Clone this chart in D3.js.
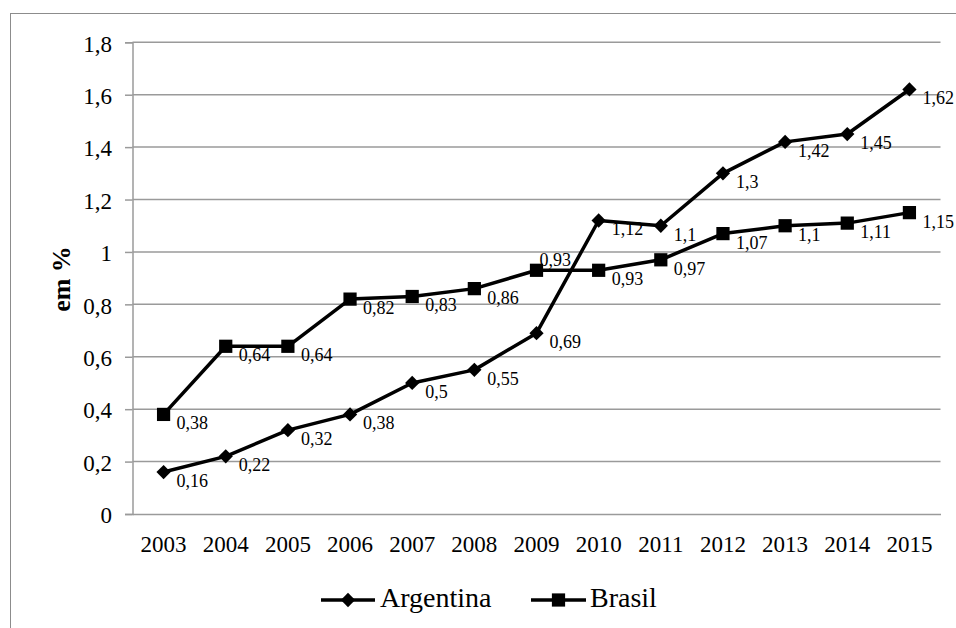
<!DOCTYPE html>
<html>
<head>
<meta charset="utf-8">
<script src="https://cdn.jsdelivr.net/npm/d3@7"></script>
<style>
  html, body { margin: 0; padding: 0; background: #fff; }
  svg { display: block; }
  text { font-family: "Liberation Serif", "Times New Roman", serif; fill: #000; }
</style>
</head>
<body>
<svg id="chart" width="956" height="628"></svg>
<script>
// Data
const years = ["2003","2004","2005","2006","2007","2008","2009","2010","2011","2012","2013","2014","2015"];
const argentina = [0.16, 0.22, 0.32, 0.38, 0.5, 0.55, 0.69, 1.12, 1.1, 1.3, 1.42, 1.45, 1.62];
const brasil = [0.38, 0.64, 0.64, 0.82, 0.83, 0.86, 0.93, 0.93, 0.97, 1.07, 1.1, 1.11, 1.15];
const yTicks = [0, 0.2, 0.4, 0.6, 0.8, 1, 1.2, 1.4, 1.6, 1.8];
const seriesNames = ["Argentina", "Brasil"];

const svg = d3.select("#chart");
const fmt = v => String(+v.toFixed(2)).replace(".", ",");

// outer frame (runs off the right and bottom edges)
svg.append("rect")
  .attr("x", 10.5).attr("y", 13.5)
  .attr("width", 980).attr("height", 640)
  .attr("fill", "none").attr("stroke", "#8c8c8c").attr("stroke-width", 1);

const plot = { left: 132.5, right: 940.5, top: 42.3, bottom: 514 };

const x = d3.scaleBand().domain(years).range([plot.left, plot.right]);
const y = d3.scaleLinear().domain([0, 1.8]).range([plot.bottom, plot.top]);
const cx = d => x(d) + x.bandwidth() / 2;

// horizontal gridlines
svg.append("g").selectAll("line").data(yTicks.filter(t => t > 0)).join("line")
  .attr("x1", plot.left).attr("x2", plot.right)
  .attr("y1", d => y(d)).attr("y2", d => y(d))
  .attr("stroke", "#9a9a9a").attr("stroke-width", 1.5);

// y axis
const yAxis = svg.append("g")
  .attr("transform", `translate(${plot.left},0)`)
  .call(d3.axisLeft(y).tickValues(yTicks).tickSize(7.5).tickPadding(13).tickFormat(fmt));
yAxis.select(".domain").attr("stroke", "#9a9a9a").attr("stroke-width", 1.5);
yAxis.selectAll(".tick line").attr("stroke", "#9a9a9a").attr("stroke-width", 1.5);
yAxis.selectAll(".tick text")
  .attr("font-family", "Liberation Serif, serif").attr("font-size", 23)
  .attr("dy", "0.38em").attr("fill", "#000");

// x axis
const xAxis = svg.append("g")
  .attr("transform", `translate(0,${plot.bottom})`)
  .call(d3.axisBottom(x).tickSize(0).tickPadding(22));
xAxis.select(".domain").attr("stroke", "#9a9a9a").attr("stroke-width", 1.5);
xAxis.selectAll(".tick text")
  .attr("font-family", "Liberation Serif, serif").attr("font-size", 23)
  .attr("dy", "0.71em").attr("fill", "#000");

// y axis title
svg.append("text")
  .attr("transform", "translate(70,279) rotate(-90)")
  .attr("text-anchor", "middle")
  .attr("font-size", 26).attr("font-weight", "bold")
  .text("em %");

const line = d3.line().x((d, i) => cx(years[i])).y(d => y(d));
const diamond = d3.symbol().type(d3.symbolDiamond2).size(130);
const square = d3.symbol().type(d3.symbolSquare).size(175);

function drawSeries(values, marker) {
  const g = svg.append("g");
  g.append("path").datum(values)
    .attr("d", line).attr("fill", "none")
    .attr("stroke", "#000").attr("stroke-width", 3.5).attr("stroke-linejoin", "round");
  g.selectAll("path.m").data(values).join("path").attr("class", "m")
    .attr("transform", (d, i) => `translate(${cx(years[i])},${y(d)})`)
    .attr("d", marker).attr("fill", "#000");
  return g;
}

drawSeries(argentina, diamond);
drawSeries(brasil, square);

// value labels, placed below-right of each point
function drawLabels(values, shifts) {
  svg.append("g").selectAll("text").data(values).join("text")
    .attr("x", (d, i) => cx(years[i]) + (shifts[i] ? shifts[i][0] : 13))
    .attr("y", (d, i) => y(d) + (shifts[i] ? shifts[i][1] : 15))
    .attr("font-size", 18)
    .text(d => fmt(d));
}
drawLabels(argentina, { 13: null });
drawLabels(brasil, { 6: [3, -4] });

// legend
const legend = svg.append("g");
const items = [
  { name: seriesNames[0], x1: 321, x2: 375, marker: diamond, tx: 380 },
  { name: seriesNames[1], x1: 531, x2: 586, marker: square, tx: 590 }
];
items.forEach(it => {
  legend.append("line")
    .attr("x1", it.x1).attr("x2", it.x2).attr("y1", 600).attr("y2", 600)
    .attr("stroke", "#000").attr("stroke-width", 3.5);
  legend.append("path")
    .attr("transform", `translate(${(it.x1 + it.x2) / 2},600)`)
    .attr("d", it.marker).attr("fill", "#000");
  legend.append("text")
    .attr("x", it.tx).attr("y", 607)
    .attr("font-size", 28)
    .text(it.name);
});
</script>
</body>
</html>
